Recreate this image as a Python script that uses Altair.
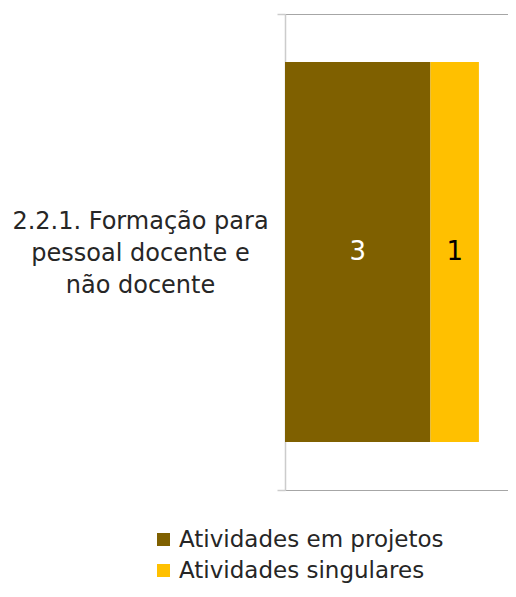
import json
import altair as alt
import pandas as pd

categories = ["2.2.1. Formação para pessoal docente e não docente"]
category_lines = ["2.2.1. Formação para", "pessoal docente e", "não docente"]
series = ["Atividades em projetos", "Atividades singulares"]
values = [3, 1]
colors = ["#7F6000", "#FFC000"]
label_colors = ["#FFFFFF", "#000000"]

df = pd.DataFrame({
    "categoria": [categories[0]] * len(series),
    "serie": series,
    "valor": values,
    "ordem": list(range(len(series))),
    "cor_rotulo": label_colors,
})

FONT = "DejaVu Sans"

base = alt.Chart(df).transform_stack(
    stack="valor", groupby=["categoria"], as_=["x0", "x1"],
    sort=[alt.SortField("ordem", order="ascending")]
).transform_calculate(mid="(datum.x0 + datum.x1) / 2")

xscale = alt.Scale(domain=[0, 4.6], nice=False, zero=True)
yenc = alt.Y(
    "categoria:N", title=None,
    scale=alt.Scale(paddingInner=0, paddingOuter=0),
    axis=alt.Axis(
        tickBand="extent", grid=True, gridColor="#a6a6a6", gridWidth=1,
        domainColor="#cccccc", domainWidth=1.5, tickColor="#cccccc", tickWidth=1.5,
        tickSize=8, labelAlign="center", labelBaseline="middle",
        labelPadding=137, labelFont=FONT, labelFontSize=24, labelColor="#262626",
        labelLineHeight=32, labelLimit=400, labelOffset=-31,
        labelExpr="datum.label ? " + json.dumps(category_lines) + " : ''",
    ),
)

bars = base.mark_bar(size=380).encode(
    x=alt.X("x0:Q", scale=xscale, axis=None),
    x2="x1:Q",
    y=yenc,
    color=alt.Color(
        "serie:N",
        scale=alt.Scale(domain=series, range=colors),
        legend=alt.Legend(
            title=None, orient="none", legendX=-133, legendY=514,
            symbolType="square", symbolSize=169, symbolStrokeWidth=0,
            labelFont=FONT, labelFontSize=23, labelColor="#262626",
            labelOffset=4, rowPadding=7, labelLimit=400,
        ),
    ),
)

labels = base.mark_text(font=FONT, fontSize=26, baseline="middle", align="center").encode(
    x=alt.X("mid:Q", scale=xscale, axis=None),
    y=alt.Y("categoria:N"),
    text="valor:Q",
    color=alt.Color("cor_rotulo:N", scale=None, legend=None),
)

chart = alt.layer(bars, labels).properties(
    width=223, height=476,
    autosize=alt.AutoSizeParams(type="none"),
    padding={"left": 277, "top": 6, "right": 0, "bottom": 95},
).configure_view(stroke=None).configure(font=FONT)

chart.save("out.html", embed_options={"renderer": "svg", "actions": False})
